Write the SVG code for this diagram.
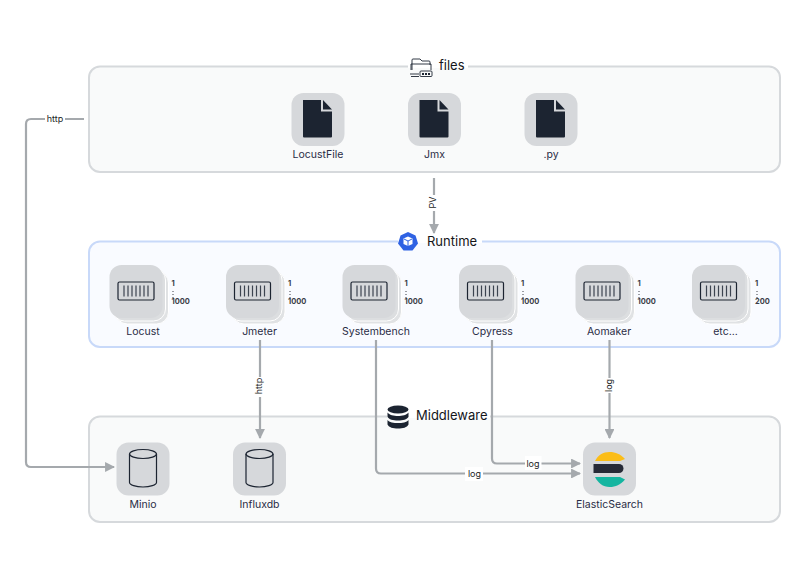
<svg xmlns="http://www.w3.org/2000/svg" xmlns:xlink="http://www.w3.org/1999/xlink" width="810" height="575" viewBox="0 0 810 575">
<style>
text{font-family:Inter,"Liberation Sans",sans-serif}
.grp{stroke-width:2}
.g1{fill:#f9fafa;stroke:#d6d9dc}
.g2{fill:#f9fbff;stroke:#c8d9f9}
.title{font-size:13px;fill:#14151a;dominant-baseline:central;text-anchor:start}
.lbl{font-size:10.5px;fill:#2a2c45;text-anchor:middle}
.edge{font-size:9px;fill:#1c1e26;text-anchor:middle;dominant-baseline:central}
.cnt{font-size:7.5px;font-weight:700;fill:#3a3d46}
.dots{fill:none;stroke:#3a3d46;stroke-dasharray:1 2}
.tile{fill:#d6d8db}
.stack{stroke:#fff;stroke-width:1}
.conn{fill:none;stroke:#a5a9ad;stroke-width:2.200}
.ink{fill:#1c2431}
.line{fill:none;stroke:#1c2431;stroke-width:1.200}
</style>
<defs>
<marker id="arr" viewBox="0 0 10 10" refX="9" refY="5" markerWidth="4.500" markerHeight="4.500" orient="auto"><path d="M0 0L10 5L0 10z" fill="#a5a9ad"/></marker>
<g id="file"><rect class="tile" x="-26.500" y="-26.500" width="53" height="53" rx="12"/><path class="ink" d="M-15-19.500H3V-8H14V17a1 1 0 0 1-1 1H-14a1 1 0 0 1-1-1z"/><path class="ink" d="M5-19.500L14-10H5z"/></g>
<g id="db"><rect class="tile" x="-26.500" y="-26.500" width="53" height="53" rx="12"/><ellipse class="line" cx="0" cy="-15" rx="13.500" ry="4.500"/><path class="line" d="M-13.500-15V13.500C-13.500 16-7 18 0 18S13.500 16 13.500 13.500V-15"/></g>
<g id="pod"><rect class="stack" x="-20.500" y="-20.500" width="53" height="53" rx="12" fill="#e0e2e4"/><rect class="stack" x="-23.500" y="-23.500" width="53" height="53" rx="12" fill="#dcdee0"/><rect class="tile" x="-26.500" y="-26.500" width="53" height="53" rx="12"/><rect x="-18" y="-9.500" width="36" height="18" rx="1.500" fill="none" stroke="#1c2431" stroke-width="1.200"/><path d="M-12-6V5M-8-6V5M-4-6V5M0-6V5M4-6V5M8-6V5M12-6V5" stroke="#3c4450" stroke-width="1.200" fill="none"/></g>
</defs>

<g id="group-files"><rect class="grp g1" x="89" y="66.500" width="691" height="105.500" rx="11"/><rect x="408" y="64" width="60" height="4" fill="#fff"/>
<g transform="translate(410,58)" fill="none" stroke="#1c2431" stroke-width="0.900"><path d="M2 12V2a1 1 0 0 1 1-1H10l2 2H19a1 1 0 0 1 1 1V7"/><path d="M1 12V6H21V12"/><rect x="10" y="13" width="12" height="5.500" rx="1"/><path d="M12 16H20" stroke-width="2" stroke-dasharray="2 1"/><path d="M0 16H9M1 18.500H9"/></g>
<text class="title" x="439" y="65">files</text></g>
<g id="group-runtime"><rect class="grp g2" x="89" y="241.500" width="691" height="105.500" rx="11"/><rect x="398" y="239" width="84" height="4" fill="#fff"/>
<path d="M408 232L415.500 235.500L418 243.500L412.500 250.500H403.500L398 243.500L400.500 235.500z" fill="#2f62e3"/><path d="M403.500 238.500L408 236.500L412.500 238.500V244L408 246L403.500 244z" fill="#fff"/><path d="M408 241V246M404 239L408 241L412 239" stroke="#2f62e3" stroke-width="1" fill="none"/>
<text class="title" x="427" y="240.500">Runtime</text></g>
<g id="group-middleware"><rect class="grp g1" x="89" y="416.500" width="691" height="105.500" rx="11"/><rect x="387" y="414" width="103" height="4" fill="#fff"/>
<g class="ink"><ellipse cx="398" cy="409.500" rx="10.500" ry="4"/><path d="M387.500 412.500C389 415 394 416 398 416S407 415 408.500 412.500V417C407 419.500 403 420.500 398 420.500S389 419.500 387.500 417z"/><path d="M387.500 420C389 422.500 394 423 398 423S407 422.500 408.500 420V424.500C407 427.500 403 428.500 398 428.500S389 427.500 387.500 424.500z"/></g>
<text class="title" x="416" y="415">Middleware</text></g>

<g id="connectors">
<path class="conn" d="M84 119H31Q26 119 26 124V462Q26 467 31 467H114" marker-end="url(#arr)"/>
<path class="conn" d="M434 178V233" marker-end="url(#arr)"/>
<path class="conn" d="M260 340V438" marker-end="url(#arr)"/>
<path class="conn" d="M376 340V468.500Q376 473.500 381 473.500H580" marker-end="url(#arr)"/>
<path class="conn" d="M492 340V458.500Q492 463.500 497 463.500H580" marker-end="url(#arr)"/>
<path class="conn" d="M609.500 340V438" marker-end="url(#arr)"/>
<rect x="45" y="112" width="20" height="14" fill="#fff"/><text class="edge" x="55" y="118.500">http</text>
<rect x="427" y="195" width="14" height="16" fill="#fff"/><text class="edge" transform="translate(432.500,202.500) rotate(-90)">PV</text>
<rect x="253" y="377" width="14" height="20" fill="#fff"/><text class="edge" transform="translate(258,386) rotate(-90)">http</text>
<rect x="602" y="378" width="14" height="15" fill="#fff"/><text class="edge" transform="translate(608,385.500) rotate(-90)">log</text>
<rect x="525" y="456" width="16.500" height="14" fill="#fff"/><text class="edge" x="533" y="463">log</text>
<rect x="465" y="467" width="18" height="14" fill="#fff"/><text class="edge" x="474.500" y="473">log</text>
</g>

<g id="node-locustfile"><use xlink:href="#file" href="#file" x="318" y="119.500"/><text class="lbl" x="318" y="158">LocustFile</text></g>
<g id="node-jmx"><use xlink:href="#file" href="#file" x="434.500" y="119.500"/><text class="lbl" x="434.500" y="158">Jmx</text></g>
<g id="node-py"><use xlink:href="#file" href="#file" x="551" y="119.500"/><text class="lbl" x="551" y="158">.py</text></g>

<g id="node-locust"><use xlink:href="#pod" href="#pod" x="136" y="291.500"/><text class="lbl" x="143" y="335">Locust</text><text class="cnt" x="171.500" y="286">1</text><text class="cnt" x="171.500" y="304">1000</text><path class="dots" d="M173 291V298"/></g>
<g id="node-jmeter"><use xlink:href="#pod" href="#pod" x="252.500" y="291.500"/><text class="lbl" x="259.500" y="335">Jmeter</text><text class="cnt" x="288" y="286">1</text><text class="cnt" x="288" y="304">1000</text><path class="dots" d="M290 291V298"/></g>
<g id="node-systembench"><use xlink:href="#pod" href="#pod" x="369" y="291.500"/><text class="lbl" x="376" y="335">Systembench</text><text class="cnt" x="404.500" y="286">1</text><text class="cnt" x="404.500" y="304">1000</text><path class="dots" d="M406 291V298"/></g>
<g id="node-cpyress"><use xlink:href="#pod" href="#pod" x="485.500" y="291.500"/><text class="lbl" x="492.500" y="335">Cpyress</text><text class="cnt" x="521" y="286">1</text><text class="cnt" x="521" y="304">1000</text><path class="dots" d="M523 291V298"/></g>
<g id="node-aomaker"><use xlink:href="#pod" href="#pod" x="602" y="291.500"/><text class="lbl" x="609" y="335">Aomaker</text><text class="cnt" x="637.500" y="286">1</text><text class="cnt" x="637.500" y="304">1000</text><path class="dots" d="M639 291V298"/></g>
<g id="node-etc"><use xlink:href="#pod" href="#pod" x="718.500" y="291.500"/><text class="lbl" x="725.500" y="335">etc...</text><text class="cnt" x="755" y="286">1</text><text class="cnt" x="755" y="304">200</text><path class="dots" d="M757 291V298"/></g>

<g id="node-minio"><use xlink:href="#db" href="#db" x="143" y="469"/><text class="lbl" x="143" y="508">Minio</text></g>
<g id="node-influxdb"><use xlink:href="#db" href="#db" x="259.500" y="469"/><text class="lbl" x="259.500" y="508">Influxdb</text></g>
<g id="node-elasticsearch"><rect class="tile" x="583" y="442.500" width="53" height="53" rx="12"/>
<path d="M595 461C598 455 603 452 609.500 452S620 454 625 459L620 461z" fill="#fbbd18"/><path d="M595 477C598 483 603 487 609.500 487S620 485 625 479.500L620 477z" fill="#14b5a0"/><path d="M593.500 464H619A4.500 4.500 0 0 1 619 473H593.500z" fill="#262a36"/>
<text class="lbl" x="609.500" y="508">ElasticSearch</text></g>
</svg>
